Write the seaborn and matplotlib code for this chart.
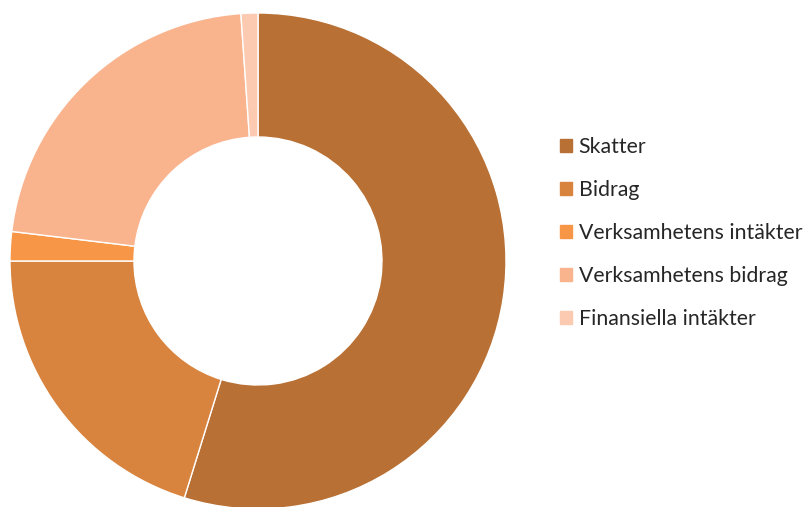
import matplotlib
matplotlib.use("Agg")
import matplotlib.pyplot as plt
import matplotlib.patches as mpatches
import seaborn as sns

# share of income per category (percent)
labels = ["Skatter", "Bidrag", "Verksamhetens intäkter", "Verksamhetens bidrag", "Finansiella intäkter"]
values = [54.8, 20.2, 1.9, 22.0, 1.1]
colors = ["#B87034", "#D9843E", "#F79646", "#F9B48E", "#FBCAB0"]

sns.set_theme(style="white")
plt.rcParams['font.family'] = ['Lato', 'DejaVu Sans']

fig = plt.figure(figsize=(8.09, 5.07), dpi=100)
ax = fig.add_axes([10 / 809, 1 - 509 / 507, 496 / 809, 496 / 507])

wedges, _ = ax.pie(values, colors=colors, startangle=90, counterclock=False,
                   radius=1, wedgeprops=dict(width=0.5, edgecolor="white", linewidth=1))
ax.set_xlim(-1, 1)
ax.set_ylim(-1, 1)
ax.set_aspect("auto")
ax.axis("off")

#legend on the right
handles = [mpatches.Patch(color=c, label=l) for c, l in zip(colors, labels)]
leg = fig.legend(handles=handles, loc="center left", bbox_to_anchor=(551 / 809, 1 - 233 / 507),
                 frameon=False, fontsize=15.3, labelspacing=1.08, handlelength=0.6,
                 handleheight=0.6, handletextpad=0.3, borderaxespad=0)
for t in leg.get_texts():
    t.set_color("#262626")

fig.savefig("out.png", dpi=100)
